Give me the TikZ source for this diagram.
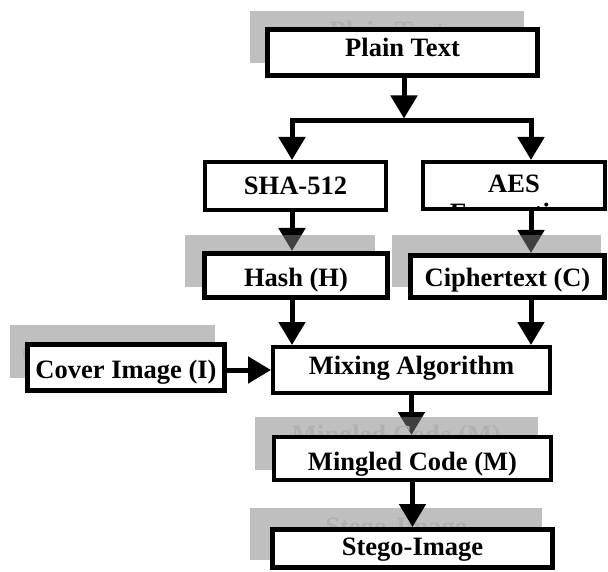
\documentclass[tikz,border=0pt]{standalone}
\usepackage{fontspec}
\setmainfont{Liberation Serif}
\usetikzlibrary{arrows.meta}
\pgfdeclarelayer{low}
\pgfdeclarelayer{shade}
\pgfsetlayers{low,shade,main}
\definecolor{ghost}{HTML}{B0B0B0}
\begin{document}
\begin{tikzpicture}[x=1pt,y=-1pt,
  txt/.style={font=\bfseries\fontsize{26.5}{30}\selectfont},
  box/.style={txt,draw=black,fill=white,inner sep=0pt,text height=25pt},
  shadebox/.style={txt,fill=black!50,fill opacity=0.5,text opacity=1,text=ghost,inner sep=0pt,text height=25pt},
  arr/.style={line width=5pt,-{Triangle[width=26pt,length=23pt]}},
  bar/.style={line width=5pt,line cap=rect}]
\useasboundingbox (0,0) rectangle (608,572);

% shadow boxes with ghost text
\begin{pgfonlayer}{shade}
\node[shadebox,minimum width=274pt,minimum height=52pt,text depth=19pt] (plainG) at (387,37) {Plain Text};
\node[shadebox,minimum width=190pt,minimum height=52pt] (hashG) at (280,261) {};
\node[shadebox,minimum width=209pt,minimum height=52pt] (ciphG) at (496.5,261) {};
\node[shadebox,minimum width=205pt,minimum height=53pt,text depth=4pt] (coverG) at (112.5,351.5) {Cover Image (I)};
\node[shadebox,minimum width=283pt,minimum height=53pt,text depth=26pt] (mingG) at (396.5,443.5) {Mingled Code (M)};
\node[shadebox,minimum width=292pt,minimum height=52pt,text depth=23pt] (stegoG) at (396,534) {Stego-Image};
\end{pgfonlayer}

% boxes
\node[box,line width=5pt,minimum width=270pt,minimum height=46pt,text depth=16pt] (plain) at (402.5,52.5) {Plain Text};
\node[box,line width=4pt,minimum width=181pt,minimum height=48pt,text depth=7pt] (sha) at (295.5,186) {SHA-512};
\node[box,line width=4pt,minimum width=182pt,minimum height=47pt,text depth=10pt] (aes) at (514,185.5) {AES};
\begin{scope}
\clip ([shift={(2pt,2pt)}]aes.south west) rectangle ([shift={(-2pt,-2pt)}]aes.north east);
\node[txt,anchor=base,inner sep=0pt] (aes2) at (514,222) {Encryption};
\end{scope}
\node[box,line width=5pt,minimum width=183pt,minimum height=44pt,text depth=2pt] (hash) at (296,275.5) {Hash (H)};
\node[box,line width=5pt,minimum width=194pt,minimum height=42pt,text depth=4pt] (cipher) at (507.5,276.5) {Ciphertext (C)};
\node[box,line width=5pt,minimum width=197pt,minimum height=46pt,text depth=4pt] (cover) at (126,367.5) {Cover Image (I)};
\node[box,line width=4pt,minimum width=277pt,minimum height=46pt,text depth=17pt] (mix) at (411.5,370) {Mixing Algorithm};
\node[box,line width=4pt,minimum width=277pt,minimum height=43pt,text depth=2pt] (ming) at (412.5,458.5) {Mingled Code (M)};
\node[box,line width=5pt,minimum width=280pt,minimum height=38pt,text depth=12pt] (stego) at (412.5,548.5) {Stego-Image};

\coordinate (jm) at (404,118.5);
\coordinate (jl) at (292,121);
\coordinate (jr) at (531,121);

\begin{pgfonlayer}{low}
\draw[arr] (plain.south -| jm) -- (jm);
\draw[bar] (jl) -- (jr);
\draw[arr] (jl) -- (jl |- sha.north);
\draw[arr] (jr) -- (jr |- aes.north);
\draw[arr] (jl |- sha.south) -- (jl |- hash.north);
\draw[arr] (jr |- aes.south) -- (jr |- cipher.north);
\draw[arr] (jl |- hash.south) -- (jl |- mix.north);
\draw[arr] (jr |- cipher.south) -- (jr |- mix.north);
\draw[arr] (cover.east |- mix.west) -- (mix.west);
\draw[arr] (mix.south) -- (mix.south |- ming.north);
\end{pgfonlayer}
\draw[arr] (ming.south) -- (ming.south |- stego.north);
\end{tikzpicture}
\end{document}
